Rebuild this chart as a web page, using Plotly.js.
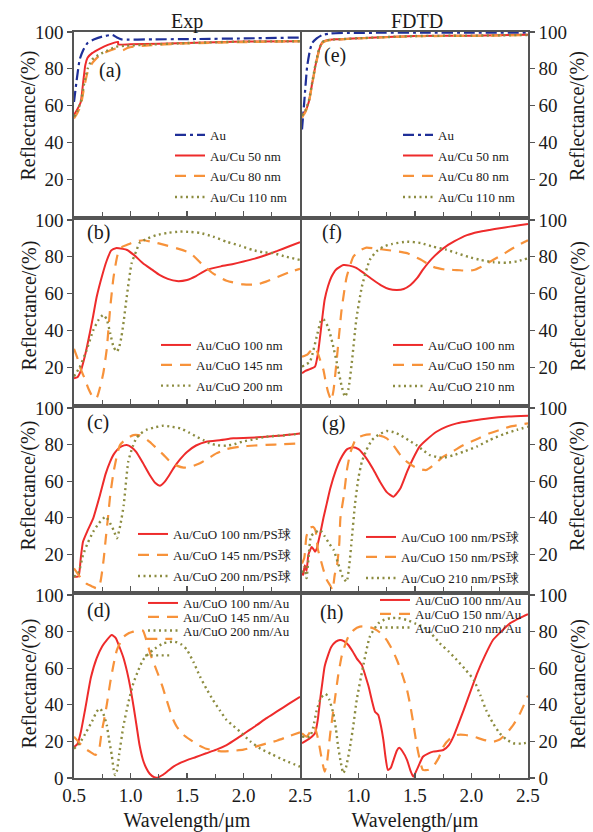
<!DOCTYPE html>
<html><head><meta charset="utf-8">
<script src="https://cdn.plot.ly/plotly-3.0.1.min.js"></script>
<style>html,body{margin:0;padding:0;background:#fff}#chart{width:593px;height:832px}
#chart text{font-family:"Liberation Serif","DejaVu Serif",serif !important;}</style>
</head><body><div id="chart"></div><script>
// ---------- DATA ----------
// Panel (a) Exp, Au/Cu
const a_au_x = [0.5,0.52,0.55,0.58,0.62,0.68,0.75,0.84,0.88,0.92,1.2,1.6,2.0,2.5];
const a_au_y = [62,72,85,90,94,96,97.5,98.4,97,96,96,96.2,96.5,97];
const a_r_x = [0.5,0.53,0.56,0.58,0.6,0.62,0.66,0.73,0.8,0.89,0.891,1.0,1.5,2.0,2.5];
const a_r_y = [55,58,62,72,82,86,88.5,91,93,94.6,93.3,93.3,94,94.8,95];
const a_o_x = [0.5,0.53,0.56,0.59,0.62,0.66,0.73,0.8,0.87,0.93,0.98,1.1,1.5,2.0,2.5];
const a_o_y = [53,56,60,70,78,83,87.5,89.5,91,90,91.5,92.5,93.8,94.5,95];
const a_g_x = [0.5,0.53,0.56,0.59,0.62,0.66,0.73,0.8,0.87,0.95,1.1,1.5,2.0,2.5];
const a_g_y = [54,57,62,72,80,85,88,90,92,92.5,93,94,94.8,95];
// Panel (e) FDTD, Au/Cu
const e_au_x = [0.5,0.52,0.545,0.57,0.59,0.63,0.68,0.75,0.9,1.2,1.6,2.0,2.5];
const e_au_y = [47,62,81,90,94,96.5,98.4,99.2,99.5,99.6,99.7,99.7,99.7];
const e_x = [0.5,0.53,0.56,0.59,0.62,0.65,0.68,0.72,0.8,0.9,1.0,1.5,2.0,2.5];
const e_r_y = [54,57,62,72,82,90,94.5,95.5,96,96.3,96.6,97.8,98,98.5];
const e_o_y = [53.5,56.5,61.5,71.5,81.5,89.5,94,95.3,95.8,96.2,96.5,97.7,97.9,98.3];
const e_g_y = [54.5,57.5,62.5,72.5,82.5,90.5,94.5,95.5,96,96.3,96.6,97.8,98,98.4];
// Panel (b) Exp, Au/CuO
const b_r_x = [0.5,0.53,0.56,0.6,0.64,0.67,0.7,0.75,0.79,0.83,0.87,0.93,0.97,1.04,1.11,1.19,1.26,1.33,1.41,1.5,1.58,1.67,1.8,1.9,2.0,2.1,2.2,2.3,2.4,2.5];
const b_r_y = [14,14.5,18,27,38.6,48,58,70,78,83.5,84.7,84.3,83.7,80.5,76.5,73,70,68,66.8,67.4,69.5,72.8,74.8,76,77.4,79,81,83.2,85.6,88];
const b_o_x = [0.5,0.53,0.56,0.6,0.63,0.67,0.7,0.73,0.76,0.79,0.82,0.85,0.89,0.93,0.97,1.03,1.11,1.2,1.3,1.41,1.53,1.64,1.73,1.85,2.0,2.12,2.2,2.3,2.4,2.5];
const b_o_y = [30,25,19,13,8,3.5,3.3,9,17,30,52,69,82,85.5,86.5,88,89,88,86.5,84.6,82,75.5,71,67,65,65,66.5,69,71.5,73.5];
const b_g_x = [0.5,0.55,0.61,0.67,0.72,0.76,0.79,0.82,0.85,0.88,0.9,0.92,0.94,0.966,1.01,1.05,1.08,1.15,1.23,1.33,1.44,1.53,1.615,1.73,1.85,1.97,2.08,2.17,2.26,2.38,2.5];
const b_g_y = [15,20,29,40,46,48.5,46,38.6,31,28.4,31,36.6,45,58,76.5,83,87.5,90,91.8,93,93.7,93.5,93,91,88.2,86,83.7,82.5,82,80,78.3];
// Panel (f) FDTD, Au/CuO
const f_r_x = [0.5,0.53,0.57,0.615,0.64,0.66,0.68,0.7,0.73,0.76,0.8,0.865,0.92,0.98,1.05,1.13,1.2,1.27,1.34,1.4,1.46,1.52,1.57,1.65,1.75,1.85,1.96,2.06,2.16,2.25,2.34,2.42,2.5];
const f_r_y = [16.7,18,19,20.3,27,36.6,47,56.5,64,69,73,75.5,75.2,74,71,67.4,64.5,62.5,62,62.5,64.7,68.5,73,79,84.6,88.5,91.8,93.5,94.6,95.5,96.4,97.1,97.8];
const f_o_x = [0.5,0.55,0.6,0.63,0.66,0.69,0.71,0.73,0.76,0.78,0.81,0.85,0.895,0.954,1.0,1.07,1.15,1.25,1.34,1.43,1.55,1.66,1.77,1.87,1.95,2.02,2.1,2.19,2.27,2.34,2.42,2.5];
const f_o_y = [25.7,27,30.5,29,24,18.5,12,6.7,2,8,25.7,51,69,80,83,85,84.5,83.7,83,82,78.5,74.6,73,72.8,72.5,72.8,75,78.3,81,83.7,86.5,89];
const f_g_x = [0.5,0.57,0.6,0.63,0.67,0.69,0.73,0.77,0.81,0.85,0.88,0.91,0.94,0.98,1.03,1.1,1.16,1.22,1.3,1.43,1.55,1.66,1.77,1.87,1.97,2.08,2.2,2.31,2.4,2.5];
const f_g_y = [20.3,23,29,36.6,45.6,46,42,33,22,10,4,8,22,45.6,63.8,78.3,83,85.5,87,88.2,87.5,85.5,84,82,80,78.3,77,76.8,77.5,79.2];
// Panel (c) Exp, Au/CuO/PS
const c_r_x = [0.5,0.51,0.54,0.56,0.58,0.62,0.67,0.73,0.78,0.82,0.85,0.88,0.92,0.966,1.01,1.05,1.1,1.17,1.22,1.26,1.3,1.34,1.38,1.44,1.5,1.58,1.67,1.8,1.91,2.05,2.2,2.35,2.5];
const c_r_y = [8,7.8,8,18,27,33,39.7,52.5,64,70.7,74.5,77,79,79.8,78.5,76,71,63.4,59,57.5,59.5,63,67,72,76,79.5,81.6,82.5,83.4,83.7,84.3,85,86];
const c_o_x = [0.5,0.55,0.61,0.66,0.7,0.73,0.76,0.78,0.8,0.82,0.85,0.88,0.907,0.96,1.025,1.07,1.11,1.17,1.23,1.29,1.35,1.41,1.47,1.54,1.615,1.69,1.76,1.85,1.97,2.1,2.2,2.35,2.5];
const c_o_y = [12.4,8,4,2.5,1.5,4,16,28,39.7,52,65,74,79.8,83,85.2,85.2,84.3,81.5,78,74.5,70.7,68.5,67.4,68,69.8,72.5,75.2,77.5,78.9,79.5,79.8,80.2,80.7];
const c_g_x = [0.5,0.54,0.58,0.62,0.67,0.72,0.78,0.82,0.85,0.88,0.91,0.94,0.98,1.02,1.05,1.09,1.14,1.22,1.29,1.36,1.44,1.52,1.585,1.65,1.7,1.77,1.85,1.92,1.99,2.1,2.2,2.35,2.5];
const c_g_y = [7.8,10,19.7,26,32.4,37,40.6,37,33.3,28.8,36,47,70.7,79,83.4,86,88,89.5,90.3,89.8,88.9,86.5,84.3,82.3,80.7,79.6,79.4,80.2,81.6,83,84.3,85,86];
// Panel (g) FDTD, Au/CuO/PS
const g_r_x = [0.5,0.51,0.525,0.54,0.556,0.57,0.585,0.6,0.615,0.63,0.645,0.66,0.69,0.72,0.75,0.8,0.84,0.9,0.95,1.0,1.07,1.13,1.19,1.25,1.31,1.37,1.43,1.48,1.54,1.6,1.69,1.78,1.87,2.0,2.16,2.33,2.5];
const g_r_y = [10,8.7,14,11,19.7,22,24,23,21.5,23,27,31,40,48,56,66,72,77.5,78.5,77.5,72.5,66.5,59.7,54,51.5,56,65.2,72,78.9,82.5,87,89.8,91.6,93,94.4,95.3,95.8];
const g_o_x = [0.5,0.52,0.54,0.57,0.6,0.62,0.64,0.67,0.69,0.72,0.75,0.77,0.79,0.81,0.83,0.84,0.87,0.9,0.93,0.98,1.04,1.10,1.18,1.25,1.31,1.37,1.43,1.49,1.55,1.60,1.67,1.75,1.84,1.93,2.05,2.16,2.25,2.34,2.5];
const g_o_y = [15,18,30,34.6,35,33,23,16,11.5,6,3,0.5,9,14,26,40,52,67,76,83.4,85,85.6,85,83.4,79.5,74.3,70.5,68,66.5,66.1,69,73.4,76.5,79.8,83,86.2,88,89.8,91.6];
const g_g_x = [0.5,0.52,0.54,0.56,0.58,0.62,0.66,0.7,0.74,0.78,0.82,0.86,0.895,0.92,0.94,0.97,1.0,1.03,1.07,1.12,1.18,1.25,1.31,1.37,1.44,1.51,1.57,1.63,1.69,1.75,1.84,1.93,2.05,2.16,2.3,2.4,2.5];
const g_g_y = [10,13,7,20,30,32,33.3,30,26,22.4,15,7.7,5,15,28,48,62,70.7,77,82.5,85.5,87.4,86.8,85.2,82.5,79.8,77,74.3,73.3,72.8,74.2,76.1,79,82.5,86,88,89.8];
// Panel (d) Exp, Au/CuO/Au
const d_r_x = [0.5,0.53,0.56,0.6,0.65,0.7,0.75,0.79,0.834,0.87,0.9,0.936,0.97,1.0,1.03,1.055,1.08,1.11,1.14,1.17,1.21,1.24,1.28,1.33,1.38,1.45,1.5,1.58,1.67,1.76,1.85,1.94,2.03,2.12,2.2,2.3,2.4,2.5];
const d_r_y = [17,18.5,25,38,55,65.4,72,75.4,78.1,76.5,72,66,58,49,38,28,18,10,5.3,2.3,0.4,0.2,1.5,3.8,6.2,8.5,9.8,11.5,13.5,15.5,18,21.5,25.3,29,32.6,36.5,40.5,44.4];
const d_o_x = [0.5,0.55,0.6,0.65,0.69,0.72,0.745,0.77,0.79,0.82,0.85,0.88,0.936,0.98,1.025,1.07,1.11,1.14,1.18,1.23,1.28,1.32,1.37,1.41,1.47,1.53,1.6,1.67,1.75,1.82,1.9,2.0,2.1,2.2,2.3,2.4,2.5,null,1.14,1.37];
const d_o_y = [22.6,19,16,14,12.6,15,25.3,33,40,52,62,70,77,79,80,80.8,80.5,75.4,67,59,50.5,42.6,33,28,23.5,20.8,18,16,15,14.5,14.8,15.5,17,18.8,20.5,22.8,25,null,76,76];
const d_g_x = [0.5,0.55,0.61,0.66,0.7,0.73,0.76,0.79,0.81,0.834,0.85,0.863,0.88,0.9,0.936,0.98,1.025,1.07,1.11,1.16,1.2,1.29,1.39,1.45,1.5,1.56,1.615,1.67,1.73,1.79,1.85,1.91,1.97,2.06,2.15,2.25,2.35,2.5,null,1.13,1.37];
const d_g_y = [16,19,25.3,31,36.2,38,35,29,21,12.6,5,1.6,4,13,28,41,51.7,59,64.5,68,70,73.6,74.5,73,70,63,55.4,49,42.6,37,31.7,28.5,25.3,20,16,13,10,6.2,null,67,67];
// Panel (h) FDTD, Au/CuO/Au
const h_r_x = [0.5,0.57,0.615,0.64,0.66,0.68,0.7,0.73,0.76,0.8,0.836,0.87,0.91,0.95,0.984,1.03,1.06,1.09,1.12,1.146,1.175,1.2,1.22,1.24,1.26,1.285,1.31,1.34,1.36,1.39,1.43,1.46,1.485,1.52,1.57,1.62,1.66,1.75,1.8,1.84,1.93,2.05,2.12,2.19,2.27,2.34,2.43,2.5];
const h_r_y = [19,21.7,24.4,32,42.6,52,60.8,67,71.7,74.5,75.4,74.8,72.7,69,65.4,61.7,56,49.9,42,36.2,34.4,28,20.8,11,4.4,5.5,9.8,15,16.5,14.5,9.8,4,0.7,5,11.6,13.5,14.4,15.3,18,22.6,37,57.2,67,75.4,80.5,84.5,87.5,89.5];
const h_o_x = [0.5,0.54,0.58,0.61,0.64,0.67,0.7,0.72,0.75,0.79,0.82,0.85,0.88,0.91,0.96,1.013,1.07,1.13,1.19,1.25,1.3,1.34,1.39,1.43,1.46,1.485,1.51,1.53,1.57,1.62,1.66,1.71,1.75,1.81,1.87,1.95,2.02,2.1,2.19,2.25,2.31,2.37,2.43,2.5];
const h_o_y = [24.4,22.6,26,28,22,12,3.5,8,24.4,42.6,56,66.3,72.5,77.2,81,82.7,82.8,81.8,79.5,75.4,70,64.5,56,48,39,29.9,20,13.5,4.4,4.5,6.2,11,17,21.5,23.5,23.5,22.6,21,19.8,21,24.4,29,35.4,45];
const h_g_x = [0.5,0.57,0.6,0.63,0.67,0.71,0.74,0.777,0.8,0.82,0.845,0.865,0.89,0.925,0.955,0.984,1.04,1.1,1.175,1.23,1.28,1.35,1.43,1.5,1.57,1.65,1.72,1.8,1.87,1.95,2.02,2.08,2.13,2.19,2.25,2.31,2.37,2.44,2.5];
const h_g_y = [22.6,22.6,28,37,44,46,43,35.4,27,17,8,2.6,6,17,29,42.6,60.8,77.2,84.5,86.5,87.3,87.5,86.3,84.5,82.7,78.5,73.6,69,64.5,59,53.6,45,37,30,24.4,21,19,18.8,19.4];

const colTitles = ['Exp','FDTD'];
const panelLabels = ['(a)','(b)','(c)','(d)','(e)','(f)','(g)','(h)'];
const yTitle = 'Reflectance/(%)';
const xTitle = 'Wavelength/\u03bcm';
const xTickVals = [0.5,1.0,1.5,2.0,2.5];
const xTickText = ['0.5','1.0','1.5','2.0','2.5'];
const yTickVals = [0,20,40,60,80,100];

// series names per panel
const names = {
  a:['Au','Au/Cu 50 nm','Au/Cu 80 nm','Au/Cu 110 nm'],
  e:['Au','Au/Cu 50 nm','Au/Cu 80 nm','Au/Cu 110 nm'],
  b:['Au/CuO 100 nm','Au/CuO 145 nm','Au/CuO 200 nm'],
  f:['Au/CuO 100 nm','Au/CuO 150 nm','Au/CuO 210 nm'],
  c:['Au/CuO 100 nm/PS球','Au/CuO 145 nm/PS球','Au/CuO 200 nm/PS球'],
  g:['Au/CuO 100 nm/PS球','Au/CuO 150 nm/PS球','Au/CuO 210 nm/PS球'],
  d:['Au/CuO 100 nm/Au','Au/CuO 145 nm/Au','Au/CuO 200 nm/Au'],
  h:['Au/CuO 100 nm/Au','Au/CuO 150 nm/Au','Au/CuO 210 nm/Au']
};

// ---------- STYLE / LAYOUT ----------
const FONT = 'Liberation Serif';
const STY = {
  au:{color:'#1f2f98', dash:'11px,4px,3px,4px', width:2.2},
  r:{color:'#ee2b2b', dash:'solid', width:2},
  o:{color:'#f7923a', dash:'11px,8px', width:2.2},
  g:{color:'#8c8c40', dash:'2px,3.5px', width:2.4}
};
const W=593,H=832, L=74, R=528, T=32, B=778;
const px2x = p => (p-L)/(R-L);
const px2y = p => (B-p)/(B-T);

const panels = [
  {k:'a', ax:1, series:[['au',a_au_x,a_au_y],['r',a_r_x,a_r_y],['o',a_o_x,a_o_y],['g',a_g_x,a_g_y]], leg:{l:170, cy:[135,155.5,176,197]}},
  {k:'b', ax:2, series:[['r',b_r_x,b_r_y],['o',b_o_x,b_o_y],['g',b_g_x,b_g_y]], leg:{l:156, cy:[345,365,385.7]}},
  {k:'c', ax:3, series:[['r',c_r_x,c_r_y],['o',c_o_x,c_o_y],['g',c_g_x,c_g_y]], leg:{l:133, cy:[534,555,576]}},
  {k:'d', ax:4, series:[['r',d_r_x,d_r_y],['o',d_o_x,d_o_y],['g',d_g_x,d_g_y]], leg:{l:143, cy:[603,617,630.5]}},
  {k:'e', ax:5, series:[['au',e_au_x,e_au_y],['r',e_x,e_r_y],['o',e_x,e_o_y],['g',e_x,e_g_y]], leg:{l:398, cy:[135,155.5,176,197]}},
  {k:'f', ax:6, series:[['r',f_r_x,f_r_y],['o',f_o_x,f_o_y],['g',f_g_x,f_g_y]], leg:{l:388, cy:[345,365,386]}},
  {k:'g', ax:7, series:[['r',g_r_x,g_r_y],['o',g_o_x,g_o_y],['g',g_g_x,g_g_y]], leg:{l:361, cy:[537,557,578]}},
  {k:'h', ax:8, series:[['r',h_r_x,h_r_y],['o',h_o_x,h_o_y],['g',h_g_x,h_g_y]], leg:{l:375, cy:[600,614,627.5]}}
];
const rowDom = [[0.7534,1],[0.5013,0.748],[0.2507,0.496],[0,0.2453]];
const colDom = [[0,0.4978],[0.5022,1]];
const labelPos = [[97,70],[85,233],[85,422],[85,610],[322,55],[320,233],[320,423],[318,612]];
const yTitleCY = [116,306,486,684];
const yTitleCX = [28.5,578];

const traces=[]; const layout={
  width:W,height:H,margin:{l:L,r:W-R,t:T,b:H-B},
  paper_bgcolor:'#fff',plot_bgcolor:'#fff',
  font:{family:FONT,color:'#1a1a1a'},
  annotations:[], showlegend:true
};
let legN=1;
panels.forEach((p,pi)=>{
  const col = pi<4?0:1, row = pi%4, n=p.ax;
  const xa = n===1?'x':'x'+n, ya = n===1?'y':'y'+n;
  p.series.forEach((s,si)=>{
    const st=STY[s[0]];
    const legId = legN===1?'legend':'legend'+legN;
    layout[legId]={x:px2x(p.leg.l), y:px2y(p.leg.cy[si]), xanchor:'left', yanchor:'middle',
      bgcolor:'rgba(0,0,0,0)', borderwidth:0, font:{family:FONT,size:13,color:'#1a1a1a'}, itemclick:false};
    traces.push({type:'scatter',mode:'lines',x:s[1],y:s[2],xaxis:xa,yaxis:ya,name:names[p.k][si],
      legend:legId, line:{color:st.color,dash:st.dash,width:st.width,shape:'spline',smoothing:0.5},
      connectgaps:false, hoverinfo:'skip'});
    legN++;
  });
  const bottom = row===3;
  const xk = n===1?'xaxis':'xaxis'+n, yk = n===1?'yaxis':'yaxis'+n;
  layout[xk]={domain:colDom[col], anchor:ya, range:[0.5,2.5], showgrid:false, zeroline:false,
    showline:true, mirror:true, linecolor:'#555', linewidth:1.6,
    ticks:'inside', ticklen:5, tickwidth:1.2, tickcolor:'#555',
    tickvals: col===1? xTickVals.slice(1):xTickVals, ticktext: col===1? xTickText.slice(1):xTickText,
    minor:{tickvals:[0.75,1.25,1.75,2.25], ticks:'inside', ticklen:4, tickcolor:'#555'},
    showticklabels:bottom, tickfont:{family:FONT,size:19,color:'#1a1a1a'},
    title: bottom?{text:xTitle, font:{family:FONT,size:20,color:'#1a1a1a'}, standoff:14}:{text:''}};
  layout[yk]={domain:rowDom[row], anchor:xa, range:[0,100], side: col===0?'left':'right',
    showgrid:false, zeroline:false, showline:true, mirror:true, linecolor:'#555', linewidth:1.6,
    ticks:'outside', ticklen:5, tickwidth:1.2, tickcolor:'#555',
    tickvals: bottom? yTickVals : yTickVals.slice(1),
    tickfont:{family:FONT,size:19,color:'#1a1a1a'}, title:{text:''}};
  // y-axis title (placed as rotated text beside each panel)
  layout.annotations.push({text:yTitle, textangle:-90, xref:'paper', yref:'paper',
    x:px2x(yTitleCX[col]), y:px2y(yTitleCY[row]), xanchor:'center', yanchor:'middle', showarrow:false,
    font:{family:FONT,size:20,color:'#1a1a1a'}});
  const lp = labelPos[pi];
  layout.annotations.push({text:panelLabels[pi], xref:'paper', yref:'paper', x:px2x(lp[0]), y:px2y(lp[1]),
    xanchor:'left', yanchor:'middle', showarrow:false, font:{family:FONT,size:20,color:'#1a1a1a'}});
});
layout.annotations.push({text:colTitles[0], xref:'paper', yref:'paper', x:px2x(187), y:px2y(21), xanchor:'center', yanchor:'middle', showarrow:false, font:{family:FONT,size:20,color:'#1a1a1a'}});
layout.annotations.push({text:colTitles[1], xref:'paper', yref:'paper', x:px2x(417), y:px2y(21), xanchor:'center', yanchor:'middle', showarrow:false, font:{family:FONT,size:20,color:'#1a1a1a'}});

Plotly.newPlot('chart', traces, layout, {staticPlot:true, displayModeBar:false});
</script></body></html>
